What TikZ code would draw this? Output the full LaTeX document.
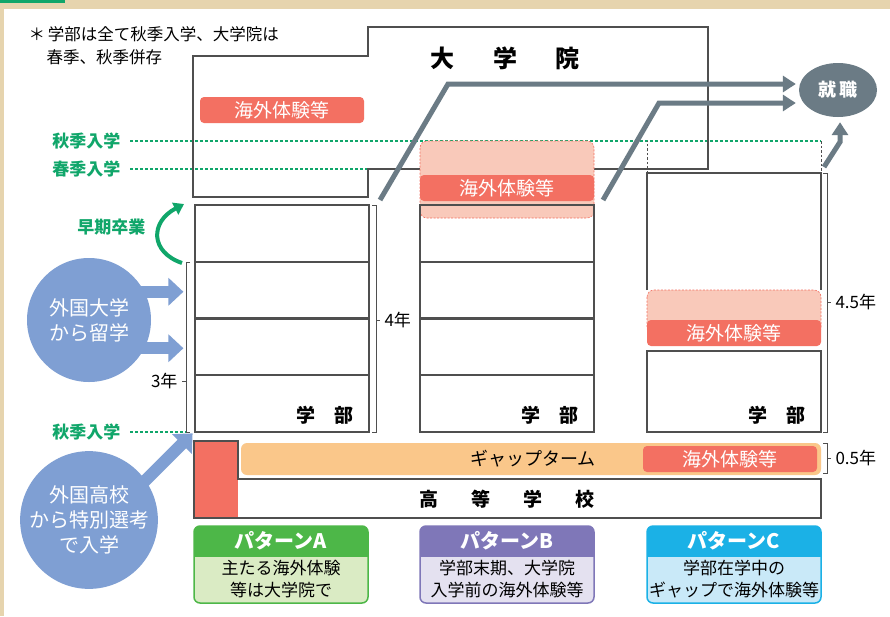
\documentclass[tikz,border=0pt]{standalone}
\usepackage{fontspec}
\setmainfont{Noto Sans CJK JP}
\usepackage{tikz}
\usetikzlibrary{arrows.meta,shapes.geometric}
\tikzset{font={\fontsize{16pt}{20}\selectfont}}
\usepackage{xcolor}
\definecolor{wood}{HTML}{E6D4AE}
\definecolor{gline}{HTML}{4F4F4F}
\definecolor{exred}{HTML}{F37062}
\definecolor{expink}{HTML}{F9C9BA}
\definecolor{gaporange}{HTML}{FAC78A}
\definecolor{jobgray}{HTML}{6B7B85}
\definecolor{circblue}{HTML}{7F9FD3}
\definecolor{entgreen}{HTML}{10A66A}
\definecolor{patA}{HTML}{4DB748}
\definecolor{bgpatA}{HTML}{DAEBC4}
\definecolor{patB}{HTML}{7F77B8}
\definecolor{bgpatB}{HTML}{E4E1F0}
\definecolor{patC}{HTML}{1BB1E6}
\definecolor{bgpatC}{HTML}{C9E9F8}
\newcommand{\fsz}[2]{\fontsize{#1}{#2}\selectfont}

\begin{document}
\begin{tikzpicture}[x=1pt,y=-1pt,
box/.style={draw=gline,line width=1.2pt},
bracket/.style={draw=gline,line width=1pt},
entry/.style={entgreen,dash pattern=on 3pt off 2pt,line width=1.1pt},
entrylabel/.style={text=entgreen,font=\fsz{17}{20}\bfseries,anchor=east},
exbar/.style={fill=exred,rounded corners=4pt,text=white,font=\fsz{19}{20},minimum height=26pt,inner sep=0pt},
exzone/.style={fill=expink,draw=exred,dash pattern=on 2pt off 1.5pt,line width=0.6pt,rounded corners=7pt},
flow/.style={jobgray,line width=5pt,-{Triangle[length=13pt,width=16pt]}},
intake/.style={circblue,line width=12pt,-{Triangle[length=15pt,width=27pt]}},
abroad/.style={circle,fill=circblue,minimum size=124pt,inner sep=0pt,text=white,align=center,font=\fsz{20}{25}},
years/.style={font=\fsz{17}{20}},
]
\useasboundingbox (0,0) rectangle (890,616);
\fill[wood] (0,0) rectangle (890,616);
\fill[white] (4,9) rectangle (890,616);
\fill[entgreen] (0,0) rectangle (65,3);

% note
\node[anchor=west,font=\fsz{16.5}{20}] (note) at (25,34) {＊\,学部は全て秋季入学、大学院は};
\node[anchor=west,font=\fsz{16.5}{20}] (note2) at (43,57) {春季、秋季併存};

% entry lines
\node[entrylabel] (fall) at (124,141) {秋季入学};
\node[entrylabel] (spring) at (124,169) {春季入学};
\node[entrylabel] (fall2) at (124,432) {秋季入学};
\draw[entry] ([xshift=6pt]fall.east) -- +(691,0);
\draw[entry] ([xshift=6pt]spring.east) -- +(238,0);
\draw[entry] ([xshift=6pt]fall2.east) -- +(56,0);

% graduate school
\draw[box] (193,56) -- (368,56) -- (368,27) -- (708,27) -- (708,169) -- (368,169) -- (368,197) -- (193,197) -- cycle;
\node[font=\fsz{24}{28}\bfseries] (grad) at (505,58) {大\hspace{1.6em}学\hspace{1.6em}院};
\node[exbar,minimum width=164pt] (exA) at (282,110) {海外体験等};

% undergraduate
\draw[exzone] (420,141) rectangle (594,218);
\foreach \x in {195,420}
  \foreach \y in {205,262,318,375}
    \draw[box] (\x,\y) rectangle +(174,57);
\draw[box] (647,290) -- (647,173) -- (821,173) -- (821,290);
\draw[gline,line width=1pt,dash pattern=on 2.5pt off 2pt] (647,173) -- (647,141) (821,141) -- (821,173);
\draw[exzone] (647,290) rectangle (821,335);
\draw[box] (647,351) rectangle (821,432);
\node[exbar,minimum width=174pt] (exB) at (507,188) {海外体験等};
\node[exbar,minimum width=174pt] (exC) at (734,333) {海外体験等};
\foreach \x/\n in {357/A,582/B,809/C}
  \node[anchor=east,font=\fsz{19}{22}\bfseries] (dept\n) at (\x,415) {学\hspace{1em}部};

% year brackets
\draw[bracket] (190,262) -- (186,262) -- (186,432) -- (190,432) (186,381) -- (182,381);
\node[years,anchor=east] (y3) at (181,381) {3年};
\draw[bracket] (372,205) -- (376,205) -- (376,432) -- (372,432) (376,320) -- (380,320);
\node[years,anchor=west] (y4) at (381,320) {4年};
\draw[bracket] (823,173) -- (827,173) -- (827,432) -- (823,432) (827,302) -- (831,302);
\node[years,anchor=west] (y45) at (832,302) {4.5年};
\draw[bracket] (823,443) -- (827,443) -- (827,473) -- (823,473) (827,458) -- (831,458);
\node[years,anchor=west] (y05) at (832,458) {0.5年};

% gap term and high school
\fill[gaporange,rounded corners=6pt] (241,443) rectangle (821,475);
\node[font=\fsz{18}{20}] (gap) at (533,459) {ギャップターム};
\node[exbar,minimum width=174pt] (exG) at (730,459) {海外体験等};
\fill[exred] (194,441) rectangle (238,518);
\draw[box] (238,479) -- (238,441) -- (194,441) -- (194,518) -- (821,518) -- (821,479) -- cycle;
\node[font=\fsz{19}{22}\bfseries] (hs) at (507,499) {高\hspace{1.75em}等\hspace{1.75em}学\hspace{1.75em}校};

% patterns
\foreach \x/\n/\ta/\tb in {194/A/主たる海外体験/等は大学院で,420/B/学部末期、大学院/入学前の海外体験等,647/C/学部在学中の/ギャップで海外体験等}{
  \draw[draw=pat\n,fill=bgpat\n,line width=1.5pt,rounded corners=6pt] (\x,526) rectangle +(174,77);
  \begin{scope}
    \clip (\x,526) rectangle +(174,30);
    \fill[fill=pat\n,rounded corners=6pt] (\x,526) rectangle +(174,77);
  \end{scope}
  \node[text=white,font=\fsz{20}{22}\bfseries] (pat\n) at (\x+87,541) {パターン\n};
  \node[align=center,font=\fsz{17}{22}] (desc\n) at (\x+87,579) {\ta\\\tb};
}

% from abroad
\node[abroad] (univ) at (89,320) {外国大学\\から留学};
\node[abroad] (school) at (89,520) {外国高校\\から特別選考\\で入学};
\draw[intake] ([xshift=-8pt]univ.27) -- ++(47,0);
\draw[intake] ([xshift=-8pt]univ.-27) -- ++(47,0);
\draw[intake] ([xshift=-6pt,yshift=-6pt]school.35) -- ++(53,-53);

% early graduation
\node[entrylabel] (early) at (149,227) {早期卒業};
\coordinate (eg0) at (182,263);
\coordinate (eg1) at (184,204);
\draw[entgreen,line width=4pt,-{Triangle[length=10pt,width=13pt]}] (eg0) .. controls (150,252) and (150,222) .. (eg1);

% employment
\node[ellipse,fill=jobgray,minimum width=78pt,minimum height=54pt,inner sep=0pt,text=white,font=\fsz{18}{20}\bfseries] (job) at (838,90) {就\,職};
\coordinate (fa0) at (380,200);
\coordinate (fa1) at (448,84);
\coordinate (fb0) at (603,200);
\coordinate (fb1) at (659,103);
\coordinate (fc0) at (824,167);
\coordinate (fc1) at (840,142);
\draw[flow,shorten >=3pt] (fa0) -- (fa1) -- (fa1 -| job.west);
\draw[flow,shorten >=3pt] (fb0) -- (fb1) -- (fb1 -| job.west);
\draw[flow,shorten >=5pt] (fc0) -- (fc1) -- (fc1 |- job.south);
\end{tikzpicture}
\end{document}
